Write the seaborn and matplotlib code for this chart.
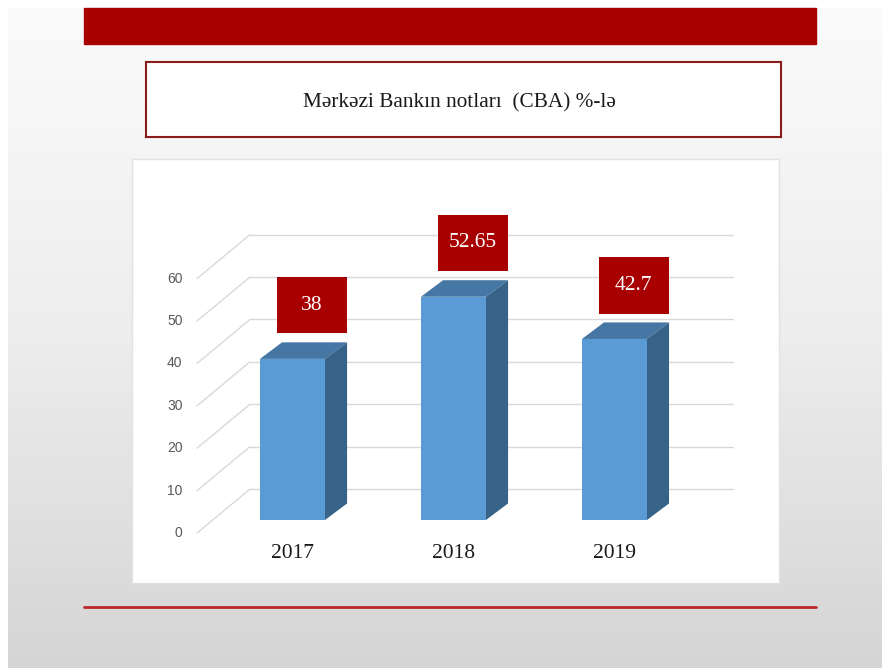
import matplotlib
matplotlib.use("Agg")
import matplotlib.pyplot as plt
import numpy as np
import seaborn as sns
from matplotlib.patches import Polygon, Rectangle
from matplotlib.lines import Line2D

# data
years = ["2017", "2018", "2019"]
rates = [38, 52.65, 42.7]
rate_labels = ["38", "52.65", "42.7"]
y_ticks = [0, 10, 20, 30, 40, 50, 60]
title = "Mərkəzi Bankın notları  (CBA) %-lə"

# colours
RED = "#a80000"
FRONT = "#5b9bd5"
TOP = "#4676a4"
SIDE = "#386388"
GRID = "#d9d9d9"

sns.set_theme(style="white")
plt.rcParams["font.family"] = ["Liberation Serif", "DejaVu Serif"]

W, H = 882, 668
fig = plt.figure(figsize=(W / 100, H / 100), dpi=100)


def fig_rect(x0, y0, x1, y1):
    # pixel box (top-left origin) -> figure fraction [left, bottom, width, height]
    return [x0 / W, 1 - y1 / H, (x1 - x0) / W, (y1 - y0) / H]


# slide background: vertical light-grey gradient
bg = fig.add_axes(fig_rect(8, 8, W, H))
grad = np.linspace(0, 1, 256)[:, None]
bg.imshow(grad, aspect="auto", cmap=matplotlib.colors.LinearSegmentedColormap.from_list(
    "slide", ["#fbfbfb", "#ededed", "#d5d5d5"]), extent=[0, 1, 0, 1])
bg.set_axis_off()

# red header bar and bottom rule
fig.patches.append(Rectangle((84 / W, 1 - 44 / H), (816 - 84) / W, 36 / H,
                             transform=fig.transFigure, color=RED, zorder=2))
fig.lines.append(Line2D([84 / W, 816 / W], [1 - 607 / H] * 2, transform=fig.transFigure,
                        color="#c0262a", lw=2, zorder=2))

# title box
tax = fig.add_axes(fig_rect(146, 62, 781, 137))
tax.set_facecolor("white")
tax.set_xticks([])
tax.set_yticks([])
for s in tax.spines.values():
    s.set_color("#8b1a1a")
    s.set_linewidth(1.5)
tax.text(0.494, 0.46, title, ha="center", va="center", fontsize=15.3, color="#1a1a1a",
         transform=tax.transAxes)

# chart area
ax = fig.add_axes(fig_rect(132, 159, 779, 583))
ax.set_facecolor("white")
for s in ax.spines.values():
    s.set_color("#e2e2e2")
    s.set_linewidth(1)

sns.barplot(x=years, y=rates, ax=ax, color=FRONT, saturation=1, width=0.404,
            edgecolor="none", zorder=3)
ax.set_xlim(-0.997, 3.022)
ax.set_ylim(-14.86, 85.14)
ax.set_xticks([])
ax.set_yticks([])
ax.set_xlabel("")
ax.set_ylabel("")

# pseudo-3D depth (data units)
depth_x, depth_y = 0.137, 3.9
wall_x0, wall_x1, wall_dy = -0.264, 2.736, 7.3
front_x, front_dy = -0.593, -3.07

for v in y_ticks:
    ax.plot([wall_x0, wall_x1], [v + wall_dy] * 2, color=GRID, lw=1, zorder=1)
    ax.plot([front_x, wall_x0], [v + front_dy, v + wall_dy], color=GRID, lw=1, zorder=1)
    ax.text(front_x - 0.09, v + front_dy, str(v), ha="right", va="center",
            fontsize=10, color="#595959", family=["Liberation Sans", "DejaVu Sans"])

for i, (bar, lab) in enumerate(zip(ax.patches, rate_labels)):
    x0, w, h = bar.get_x(), bar.get_width(), bar.get_height()
    x1 = x0 + w
    top = Polygon([(x0, h), (x1, h), (x1 + depth_x, h + depth_y), (x0 + depth_x, h + depth_y)],
                  closed=True, facecolor=TOP, edgecolor="none", zorder=3)
    side = Polygon([(x1, 0), (x1 + depth_x, depth_y), (x1 + depth_x, h + depth_y), (x1, h)],
                   closed=True, facecolor=SIDE, edgecolor="none", zorder=3)
    ax.add_patch(top)
    ax.add_patch(side)

    # value label box
    cx = x0 + w / 2 + 0.12
    bw, bh = 0.435, 13.4
    by = h + depth_y + 2.1
    ax.add_patch(Rectangle((cx - bw / 2, by), bw, bh, facecolor=RED, edgecolor="none", zorder=4))
    ax.text(cx, by + bh / 2, lab, ha="center", va="center", color="white",
            fontsize=15.5, zorder=5)

    ax.text(i, -7.9, years[i], ha="center", va="center", fontsize=15.5, color="#1a1a1a")

fig.savefig("out.png", dpi=100)
